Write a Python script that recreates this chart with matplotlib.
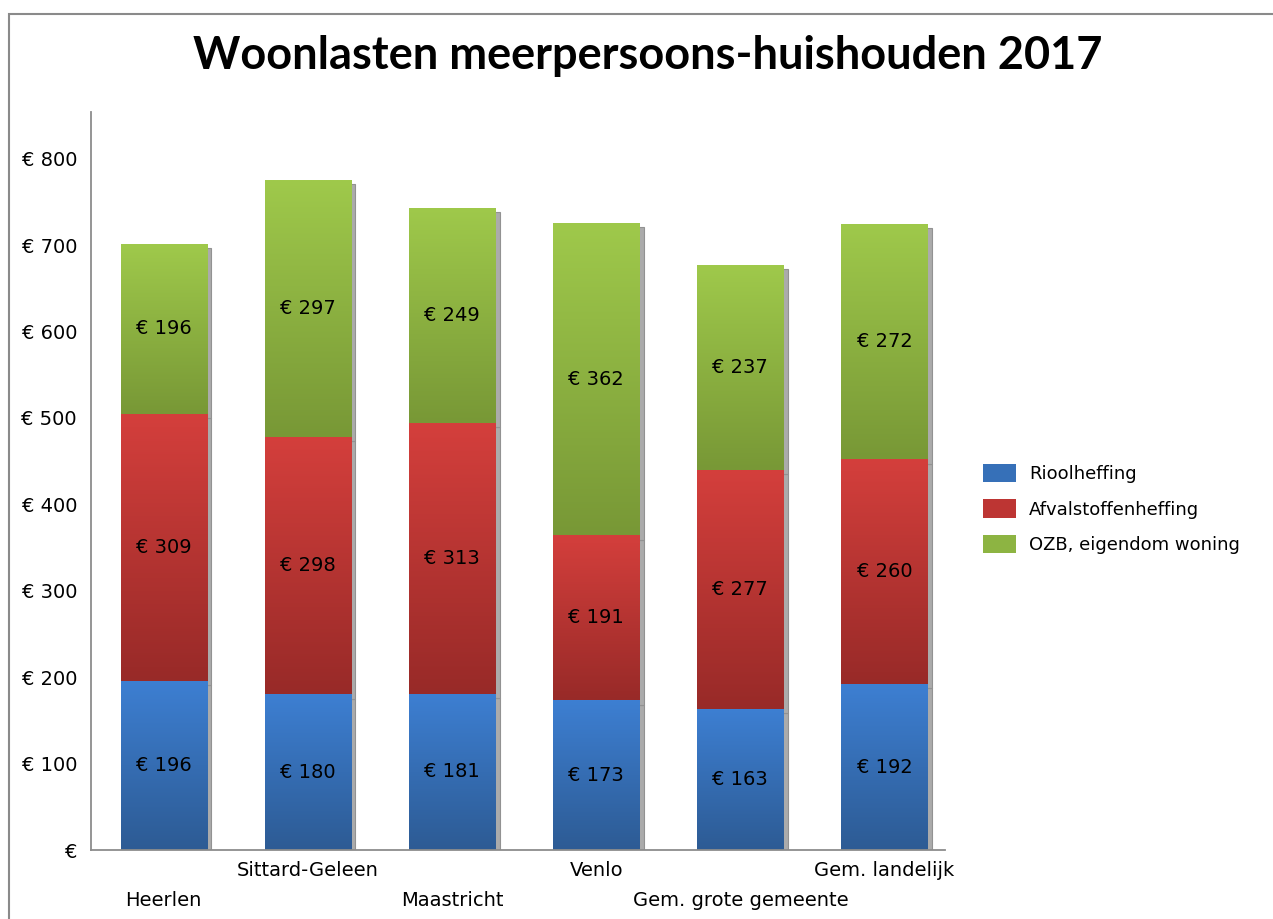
import numpy as np
import matplotlib
matplotlib.use("Agg")
import matplotlib.pyplot as plt
from matplotlib.colors import LinearSegmentedColormap
from matplotlib.patches import Patch, Rectangle
from matplotlib.transforms import ScaledTranslation

# data
categories = ["Heerlen", "Sittard-Geleen", "Maastricht", "Venlo",
              "Gem. grote gemeente", "Gem. landelijk"]
series_names = ["Rioolheffing", "Afvalstoffenheffing", "OZB, eigendom woning"]
riool = [196, 180, 181, 173, 163, 192]
afval = [309, 298, 313, 191, 277, 260]
ozb = [196, 297, 249, 362, 237, 272]
y_ticks = [0, 100, 200, 300, 400, 500, 600, 700, 800]

# (top colour, bottom colour) for the gradient of each series
grad_colors = [("#3d7fd2", "#2d5b94"),
               ("#d43f3c", "#982a28"),
               ("#9fc94b", "#789836")]
legend_colors = ["#3670b8", "#bd3533", "#8db442"]


def gradient_fill(ax, patch, top, bottom):
    # Replace the flat face of a bar with a vertical gradient
    x, y = patch.get_xy()
    w, h = patch.get_width(), patch.get_height()
    cmap = LinearSegmentedColormap.from_list("g", [bottom, top])
    grad = np.linspace(0, 1, 128).reshape(-1, 1)
    im = ax.imshow(grad, extent=[x, x + w, y, y + h], origin="lower",
                   aspect="auto", cmap=cmap, zorder=patch.get_zorder(),
                   interpolation="bilinear")
    im.set_clip_path(patch)
    patch.set_facecolor("none")


W, H = 1273, 919
fig = plt.figure(figsize=(W / 100, H / 100), dpi=100)
ax = fig.add_axes([91 / W, 1 - 850 / H, (945 - 91) / W, (850 - 112) / H])

x = np.arange(len(categories))
width = 0.6
values = [riool, afval, ozb]

# shadows behind the bars
dx, dy = 0.03, 4.8
bottom = np.zeros(len(categories))
for vals in values:
    ax.bar(x + dx, vals, width, bottom=bottom - dy, color="#ababab",
           edgecolor="#929292", linewidth=0.8, zorder=1)
    bottom += np.array(vals)

# stacked bars with gradient and value labels
bottom = np.zeros(len(categories))
for vals, (top, bot) in zip(values, grad_colors):
    bars = ax.bar(x, vals, width, bottom=bottom, linewidth=0, zorder=2)
    for b in bars:
        gradient_fill(ax, b, top, bot)
    ax.bar_label(bars, labels=[f"€ {v}" for v in vals], label_type="center",
                 fontsize=14, color="black", zorder=3)
    bottom += np.array(vals)

ax.set_xlim(-0.505, 5.42)
ax.set_ylim(0, 854)

ax.set_yticks(y_ticks)
ax.set_yticklabels(["€" if v == 0 else f"€ {v}" for v in y_ticks], fontsize=14)
ax.set_xticks(x)
ax.set_xticklabels(categories, fontsize=14)
ax.tick_params(axis="both", length=0)
ax.tick_params(axis="y", pad=10)
ax.tick_params(axis="x", pad=8)

# staggered category labels
shift = ScaledTranslation(0, -0.30, fig.dpi_scale_trans)
for i, lbl in enumerate(ax.get_xticklabels()):
    if i % 2 == 0:
        lbl.set_transform(lbl.get_transform() + shift)

for side in ["top", "right"]:
    ax.spines[side].set_visible(False)
for side in ["left", "bottom"]:
    ax.spines[side].set_color("#8c8c8c")
    ax.spines[side].set_linewidth(1.3)

fig.text(0.509, 1 - 56 / H, "Woonlasten meerpersoons-huishouden 2017",
         ha="center", va="center", fontsize=32.5, fontweight="bold",
         family="Lato")

handles = [Patch(facecolor=c, edgecolor="none") for c in legend_colors]
fig.legend(handles, series_names, loc="center left",
           bbox_to_anchor=(983 / W, 1 - 509 / H), frameon=False,
           fontsize=13, handlelength=1.8, handleheight=1.2,
           handletextpad=0.75, labelspacing=0.9, borderpad=0,
           borderaxespad=0)

# outer chart border (runs off the right and bottom edges)
fig.patches.append(Rectangle((8.5 / W, -0.1), 1.2, 1.1 - 13.5 / H,
                             transform=fig.transFigure, fill=False,
                             edgecolor="#8a8a8a", linewidth=1.5))

fig.savefig("out.png", dpi=100)
